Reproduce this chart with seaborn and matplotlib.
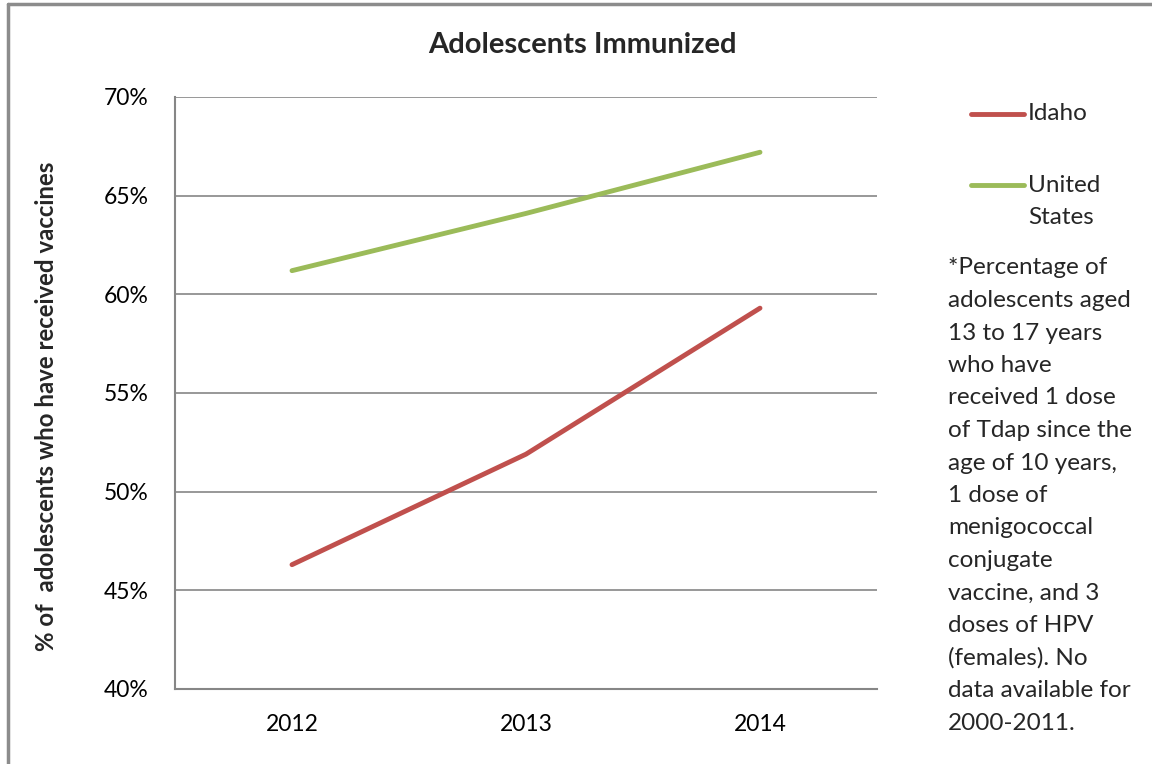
#!/usr/bin/env python3
"""Adolescents Immunized - Idaho vs United States line chart."""

import matplotlib.pyplot as plt
import pandas as pd
import seaborn as sns
from matplotlib.lines import Line2D
from matplotlib.ticker import PercentFormatter

# Data
years = ["2012", "2013", "2014"]
idaho = [46.3, 51.9, 59.3]
united_states = [61.2, 64.1, 67.2]
series_names = ["Idaho", "United States"]
legend_labels = ["Idaho", "United\nStates"]
colors = ["#C0504D", "#9BBB59"]

note_lines = [
    "*Percentage of",
    "adolescents aged",
    "13 to 17 years",
    "who have",
    "received 1 dose",
    "of Tdap since the",
    "age of 10 years,",
    "1 dose of",
    "menigococcal",
    "conjugate",
    "vaccine, and 3",
    "doses of HPV",
    "(females). No",
    "data available for",
    "2000-2011.",
]

W, H = 1152, 764
GRID = "#868686"
FS = 17.5


def fx(px):
    return px / W


def fy(py):
    return 1 - py / H


df = pd.DataFrame(
    {
        "year": years * 2,
        "value": idaho + united_states,
        "series": [series_names[0]] * len(years) + [series_names[1]] * len(years),
    }
)

sns.set_theme(style="white")
plt.rcParams["font.family"] = ["Lato", "DejaVu Sans"]

fig = plt.figure(figsize=(W / 100, H / 100), dpi=100)
ax = fig.add_axes([fx(175), fy(689), fx(877) - fx(175), fy(97) - fy(689)])

sns.lineplot(
    data=df,
    x="year",
    y="value",
    hue="series",
    palette=dict(zip(series_names, colors)),
    linewidth=3.5,
    legend=False,
    ax=ax,
)
for line in ax.lines:
    line.set_solid_capstyle("round")

ax.set_xlim(-0.5, len(years) - 0.5)
ax.set_ylim(40, 70)
ax.set_yticks(range(40, 71, 5))
ax.yaxis.set_major_formatter(PercentFormatter(decimals=0))
ax.grid(axis="y", color=GRID, linewidth=1.2)
ax.set_axisbelow(True)
ax.tick_params(axis="both", length=0, labelsize=16.5, colors="black")
ax.tick_params(axis="y", pad=19)
ax.tick_params(axis="x", pad=18)
ax.set_xlabel("")
ax.set_ylabel("")
for side in ["top", "right"]:
    ax.spines[side].set_visible(False)
for side in ["left", "bottom"]:
    ax.spines[side].set_color(GRID)
    ax.spines[side].set_linewidth(1.5)

# Title and y label
fig.text(fx(582), fy(45), "Adolescents Immunized", ha="center", va="center",
         fontsize=21, fontweight="bold")
fig.text(fx(47), fy(406), "% of  adolescents who have received vaccines",
         ha="center", va="center", rotation=90, fontsize=17.3, fontweight="bold")

# Legend drawn by hand to keep the first-line alignment of the wrapped label
legend_y = [114, 185]
for label, color, ly in zip(legend_labels, colors, legend_y):
    fig.add_artist(Line2D([fx(971), fx(1024)], [fy(ly), fy(ly)], color=color,
                          linewidth=3.5, solid_capstyle="round"))
    first, *rest = label.split("\n")
    fig.text(fx(1028), fy(ly), first, ha="left", va="center", fontsize=FS)
    for i, extra in enumerate(rest, start=1):
        fig.text(fx(1028), fy(ly + 33 * i), extra, ha="left", va="center",
                 fontsize=FS)

# Footnote
for i, text in enumerate(note_lines):
    fig.text(fx(948), fy(268 + 32.5 * i), text, ha="left", va="center",
             fontsize=FS)

# Chart border (only left/top edges visible in the crop)
fig.add_artist(Line2D([fx(8), fx(8)], [fy(H + 5), fy(4)], color="#8C8C8C",
                      linewidth=2.5))
fig.add_artist(Line2D([fx(8), fx(W + 5)], [fy(4), fy(4)], color="#8C8C8C",
                      linewidth=2.5))

fig.savefig("out.png", dpi=100)
